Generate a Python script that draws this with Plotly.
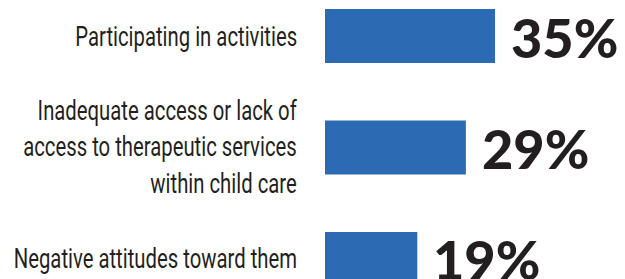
import plotly.graph_objects as go

categories = [
    "Participating in activities",
    "Inadequate access or lack of<br>access to therapeutic services<br>within child care",
    "Negative attitudes toward them",
]
values = [35, 29, 19]
value_labels = ["35%", "29%", "19%"]

BAR_COLOR = "#2C6BB3"
TEXT_COLOR = "#231F20"
LABEL_FONT = "Roboto"
VALUE_FONT = "Lato"

fig = go.Figure(
    go.Bar(
        x=values,
        y=list(range(len(categories))),
        orientation="h",
        marker=dict(color=BAR_COLOR, line=dict(width=0)),
        width=0.484,
        hoverinfo="skip",
    )
)

annotations = []
for i, (cat, v, lab) in enumerate(zip(categories, values, value_labels)):
    annotations.append(dict(
        x=0, xref="paper", y=i, yref="y",
        text=cat, showarrow=False, xanchor="right", yanchor="middle",
        align="right", xshift=-26,
        font=dict(family=LABEL_FONT, size=28, color=TEXT_COLOR),
    ))
    annotations.append(dict(
        x=v, xref="x", y=i, yref="y",
        text=lab, showarrow=False, xanchor="left", yanchor="middle",
        xshift=14, yshift=-1,
        font=dict(family=VALUE_FONT, size=54, color=TEXT_COLOR, weight=900),
    ))

fig.update_layout(
    width=625, height=279,
    margin=dict(l=325, r=0, t=0, b=0),
    paper_bgcolor="white", plot_bgcolor="white",
    showlegend=False,
    xaxis=dict(range=[0, 61.76], visible=False, fixedrange=True),
    yaxis=dict(range=[2.18, -0.323], visible=False, fixedrange=True),
    annotations=annotations,
)

post = """
document.body.style.margin='0';
function condense(){
  document.querySelectorAll('.annotation-text').forEach(function(t){
    if ((t.style.fontFamily||'').indexOf('Roboto') >= 0) {
      t.style.transformBox = 'fill-box';
      t.style.transformOrigin = 'right center';
      t.style.transform = 'scaleX(0.725)';
    }
  });
}
condense();
setTimeout(condense, 0);
var gd = document.getElementById('{plot_id}');
if (gd && gd.on) { gd.on('plotly_afterplot', condense); }
"""

fig.write_html("out.html", config={"displayModeBar": False}, post_script=post)
